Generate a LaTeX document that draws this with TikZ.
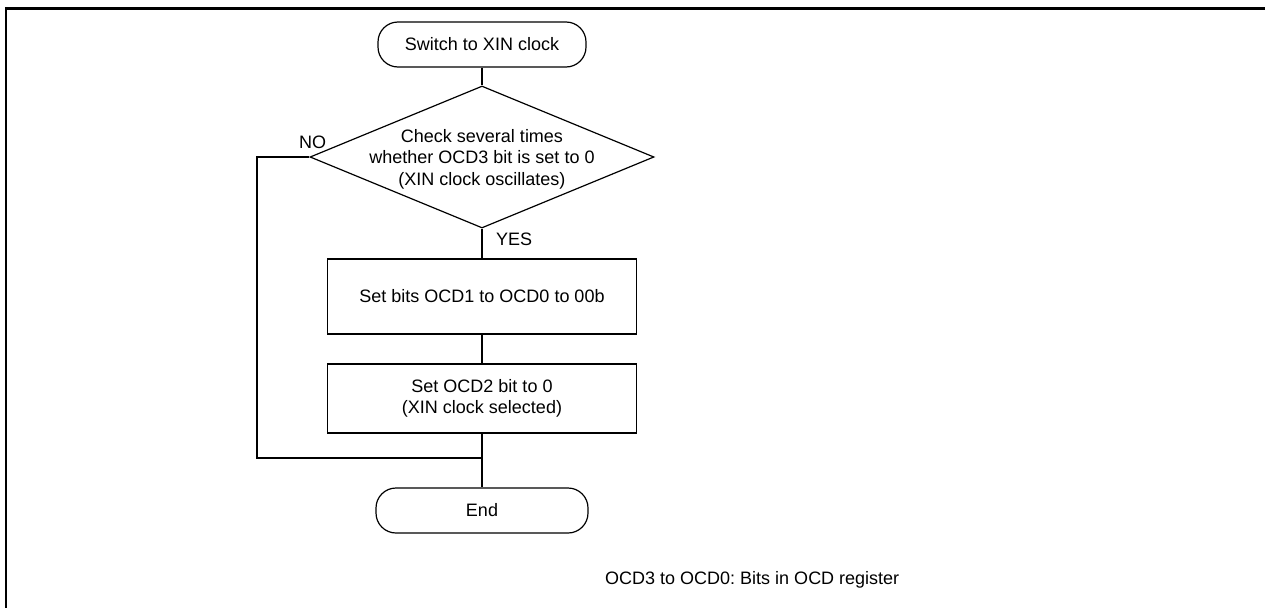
\documentclass[tikz,border=0pt]{standalone}
\usepackage{fontspec}
\setmainfont{Liberation Sans}
\usetikzlibrary{shapes.geometric}
\frenchspacing
\begin{document}
\begin{tikzpicture}[x=1pt,y=-1pt,
  every node/.style={font=\fontsize{18}{21.5}\selectfont},
  flow/.style={line width=1.2pt},
  term/.style={draw, flow, rectangle, rounded corners=20pt, minimum width=208pt, minimum height=45pt, inner sep=0pt},
  proc/.style={draw, flow, rectangle, minimum width=309pt, inner sep=0pt, align=center},
  dec/.style={draw, flow, diamond, minimum width=344pt, minimum height=142pt, inner sep=0pt},
  lbl/.style={inner sep=0pt, anchor=base west},
  conn/.style={flow}]
\useasboundingbox (0,0) rectangle (1265,608);
% frame (top and left)
\draw[line width=3.3pt] (5,8.3) -- (1265,8.3);
\draw[line width=2.4pt] (6.2,7) -- (6.2,608);

\node[term] (start) at (482,44.5) {Switch to XIN clock};
\node[dec] (chk) at (482,157) {};
\node[inner sep=0pt, align=center] (chktxt) at (482,159) {Check several times\\whether OCD3 bit is set to 0\\(XIN clock oscillates)};
\node[proc, minimum height=75pt] (b1) at (482,296.5) {Set bits OCD1 to OCD0 to 00b};
\node[proc, minimum height=69pt] (b2) at (482,398.5) {Set OCD2 bit to 0\\(XIN clock selected)};
\node[term, minimum width=212pt] (fin) at (482,510.5) {End};

\node[lbl] (no) at (299,148) {NO};
\node[lbl] (yes) at (496,245) {YES};
\node[lbl] (note) at (605,584) {OCD3 to OCD0: Bits in OCD register};

\coordinate (lpl) at (257,458);
\coordinate (mrg) at (482,458);

\draw[conn] (start.south) -- (chk.north);
\draw[conn] (chk.south) -- (b1.north);
\draw[conn] (b1.south) -- (b2.north);
\draw[conn] (b2.south) -- (fin.north);
\draw[conn] (chk.west) -| (lpl) -- (mrg);
\end{tikzpicture}
\end{document}
